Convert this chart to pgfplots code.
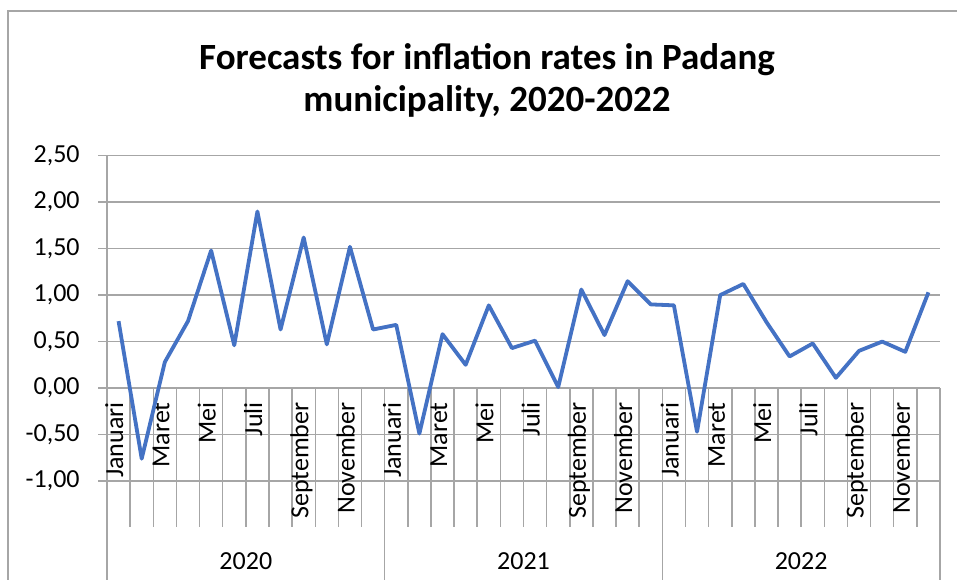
\documentclass[border=0pt]{standalone}
\usepackage{pgfplots}
\pgfplotsset{compat=1.18}
\usepackage{fontspec}
\setmainfont{Carlito}
\definecolor{lineblue}{HTML}{4472C4}
\definecolor{gridc}{HTML}{A6A6A6}
\tikzset{
  mlab/.style={rotate=90, anchor=east, inner sep=0pt, font=\fontsize{13}{15}\selectfont, text height=0.66em, text depth=0.2em},
  ylab/.style={anchor=center, inner sep=0pt, font=\fontsize{13}{15}\selectfont},
}
\begin{document}
\begin{tikzpicture}
\useasboundingbox (-53.5pt,-49pt) rectangle (425pt,240.5pt);
\draw[gridc, line width=0.75pt] (-49.5pt,-60pt) -- (-49.5pt,235pt) -- (430pt,235pt);
\node[font=\fontsize{18.5}{22}\selectfont\bfseries, anchor=base, inner sep=0pt] at (190pt,205.5pt) {Forecasts for inflation rates in Padang};
\node[font=\fontsize{18.5}{22}\selectfont\bfseries, anchor=base, inner sep=0pt] at (190pt,184.5pt) {municipality, 2020-2022};
\begin{axis}[
  at={(0,0)}, anchor=south west,
  scale only axis, width=416.5pt, height=162.65pt,
  xmin=0.5, xmax=36.5, ymin=-1, ymax=2.5,
  xtick=\empty,
  ytick={-1,-0.5,0,0.5,1,1.5,2,2.5},
  ymajorgrids, grid style={gridc, line width=0.75pt},
  axis line style={draw=none},
  major tick length=0pt, ytick style={draw=none},
  yticklabel style={font=\fontsize{13}{15}\selectfont, inner sep=0pt, xshift=-13.5pt, anchor=east},
  /pgf/number format/fixed, /pgf/number format/fixed zerofill,
  /pgf/number format/precision=2, /pgf/number format/use comma,
  /pgf/number format/assume math mode=true,
  clip=false,
]
\pgfplotsinvokeforeach{0,...,36}{\draw[gridc, line width=0.75pt] (axis cs:#1.5,0) -- (axis cs:#1.5,-1.492);}
\pgfplotsinvokeforeach{12,24,36}{\draw[gridc, line width=0.75pt] (axis cs:#1.5,0) -- (axis cs:#1.5,-2.2);}
\draw[gridc, line width=0.75pt] (axis cs:0.5,2.5) -- (axis cs:0.5,-2.2);
\pgfplotsinvokeforeach{-1,-0.5,0,0.5,1,1.5,2,2.5}{\draw[gridc, line width=0.75pt] (axis cs:0.5,#1) -- ([xshift=-4.5pt]axis cs:0.5,#1);}
\node[mlab] at (axis cs:1,-0.15) {Januari};
\node[mlab] at (axis cs:3,-0.15) {Maret};
\node[mlab] at (axis cs:5,-0.15) {Mei};
\node[mlab] at (axis cs:7,-0.15) {Juli};
\node[mlab] at (axis cs:9,-0.15) {September};
\node[mlab] at (axis cs:11,-0.15) {November};
\node[mlab] at (axis cs:13,-0.15) {Januari};
\node[mlab] at (axis cs:15,-0.15) {Maret};
\node[mlab] at (axis cs:17,-0.15) {Mei};
\node[mlab] at (axis cs:19,-0.15) {Juli};
\node[mlab] at (axis cs:21,-0.15) {September};
\node[mlab] at (axis cs:23,-0.15) {November};
\node[mlab] at (axis cs:25,-0.15) {Januari};
\node[mlab] at (axis cs:27,-0.15) {Maret};
\node[mlab] at (axis cs:29,-0.15) {Mei};
\node[mlab] at (axis cs:31,-0.15) {Juli};
\node[mlab] at (axis cs:33,-0.15) {September};
\node[mlab] at (axis cs:35,-0.15) {November};
\node[ylab] at (axis cs:6.5,-1.858) {2020};
\node[ylab] at (axis cs:18.5,-1.858) {2021};
\node[ylab] at (axis cs:30.5,-1.858) {2022};
\addplot[lineblue, line width=1.9pt, line join=round, mark=none] coordinates {
(1,0.72) (2,-0.76) (3,0.28) (4,0.72) (5,1.48) (6,0.46) (7,1.90) (8,0.63) (9,1.62) (10,0.47) (11,1.52) (12,0.63)
(13,0.68) (14,-0.49) (15,0.58) (16,0.25) (17,0.89) (18,0.43) (19,0.51) (20,0.01) (21,1.06) (22,0.57) (23,1.15) (24,0.90)
(25,0.89) (26,-0.47) (27,1.00) (28,1.12) (29,0.71) (30,0.34) (31,0.48) (32,0.11) (33,0.40) (34,0.50) (35,0.39) (36,1.03)
};
\end{axis}
\end{tikzpicture}
\end{document}
